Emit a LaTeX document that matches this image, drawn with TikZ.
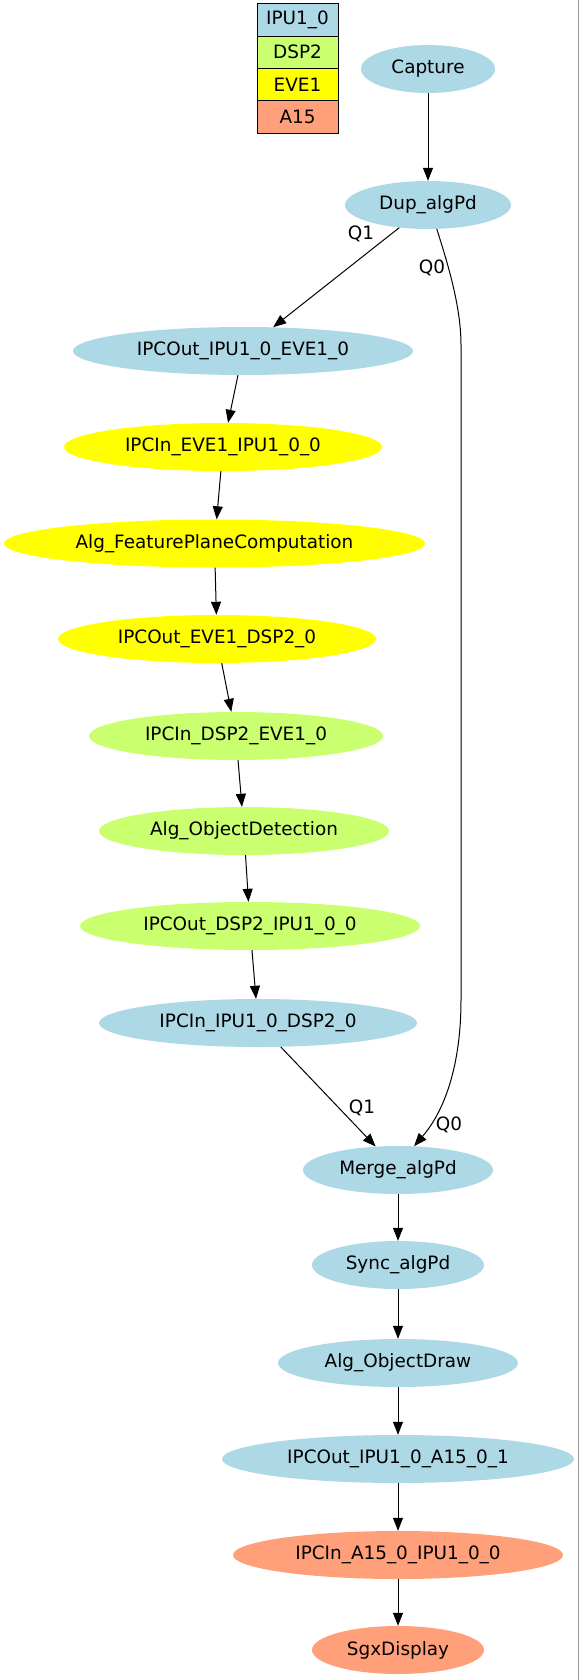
\documentclass[tikz,border=0pt]{standalone}
\usepackage{fontspec}
\setmainfont{DejaVu Sans}
\usetikzlibrary{shapes.geometric,arrows.meta}
\definecolor{ipucol}{HTML}{ADD8E6}
\definecolor{dspcol}{HTML}{CAFF70}
\definecolor{evecol}{HTML}{FFFF00}
\definecolor{acol}{HTML}{FFA07A}
\newcommand\nodefnt{\fontsize{18.4}{22}\selectfont}
\begin{document}
\begin{tikzpicture}[x=1pt,y=-1pt,
  nd/.style={ellipse,draw=none,inner sep=0pt,minimum height=48pt,font=\nodefnt},
  ipu/.style={nd,fill=ipucol},
  dsp/.style={nd,fill=dspcol},
  eve/.style={nd,fill=evecol},
  afi/.style={nd,fill=acol},
  leg/.style={rectangle,draw=black,line width=0.8pt,minimum width=81pt,minimum height=32.3pt,inner sep=0pt,font=\nodefnt},
  edge/.style={-{Triangle[length=13pt,width=10pt]},line width=1pt},
  lbl/.style={font=\nodefnt,inner sep=0pt}
]
\useasboundingbox (0,0) rectangle (579,1680);
\draw[gray!80,line width=1pt] (578,0) -- (578,1680);
% legend
\node[leg,fill=ipucol] (l1) at (297.5,20) {IPU1\_0};
\node[leg,fill=dspcol] (l2) at (297.5,52.3) {DSP2};
\node[leg,fill=evecol] (l3) at (297.5,84.6) {EVE1};
\node[leg,fill=acol] (l4) at (297.5,116.9) {A15};
% nodes
\node[ipu,minimum width=134pt] (cap) at (428,69) {Capture};
\node[ipu,minimum width=166pt] (dup) at (428,205) {Dup\_algPd};
\node[ipu,minimum width=340pt] (o1) at (243,351) {IPCOut\_IPU1\_0\_EVE1\_0};
\node[eve,minimum width=318pt] (i1) at (223,447) {IPCIn\_EVE1\_IPU1\_0\_0};
\node[eve,minimum width=421pt] (fpc) at (214.5,543.5) {Alg\_FeaturePlaneComputation};
\node[eve,minimum width=318pt] (o2) at (217,639) {IPCOut\_EVE1\_DSP2\_0};
\node[dsp,minimum width=294pt] (i2) at (236,736) {IPCIn\_DSP2\_EVE1\_0};
\node[dsp,minimum width=290pt] (od) at (244,831) {Alg\_ObjectDetection};
\node[dsp,minimum width=340pt] (o3) at (250,926) {IPCOut\_DSP2\_IPU1\_0\_0};
\node[ipu,minimum width=318pt] (i3) at (258,1023) {IPCIn\_IPU1\_0\_DSP2\_0};
\node[ipu,minimum width=190pt] (mrg) at (398,1170) {Merge\_algPd};
\node[ipu,minimum width=172pt] (syn) at (398,1265) {Sync\_algPd};
\node[ipu,minimum width=240pt] (odr) at (398,1363) {Alg\_ObjectDraw};
\node[ipu,minimum width=352pt] (o4) at (398,1459) {IPCOut\_IPU1\_0\_A15\_0\_1};
\node[afi,minimum width=330pt] (i4) at (398,1555) {IPCIn\_A15\_0\_IPU1\_0\_0};
\node[afi,minimum width=172pt] (sgx) at (398,1650) {SgxDisplay};
% edges
\draw[edge] (cap) -- (dup);
\draw[edge] (dup) -- (o1);
\draw[edge] (o1) -- (i1);
\draw[edge] (i1) -- (fpc);
\draw[edge] (fpc) -- (o2);
\draw[edge] (o2) -- (i2);
\draw[edge] (i2) -- (od);
\draw[edge] (od) -- (o3);
\draw[edge] (o3) -- (i3);
\draw[edge] (i3) -- (mrg);
\draw[edge] (dup.-70) .. controls (450,270) and (461,310) .. (461,345) -- (461,1000) .. controls (461,1060) and (447,1108) .. (mrg.56);
\draw[edge] (mrg) -- (syn);
\draw[edge] (syn) -- (odr);
\draw[edge] (odr) -- (o4);
\draw[edge] (o4) -- (i4);
\draw[edge] (i4) -- (sgx);
% labels
\node[lbl] (q1a) at (361,234) {Q1};
\node[lbl] (q0a) at (432,268) {Q0};
\node[lbl] (q1b) at (362,1108) {Q1};
\node[lbl] (q0b) at (449,1125) {Q0};
\end{tikzpicture}
\end{document}
